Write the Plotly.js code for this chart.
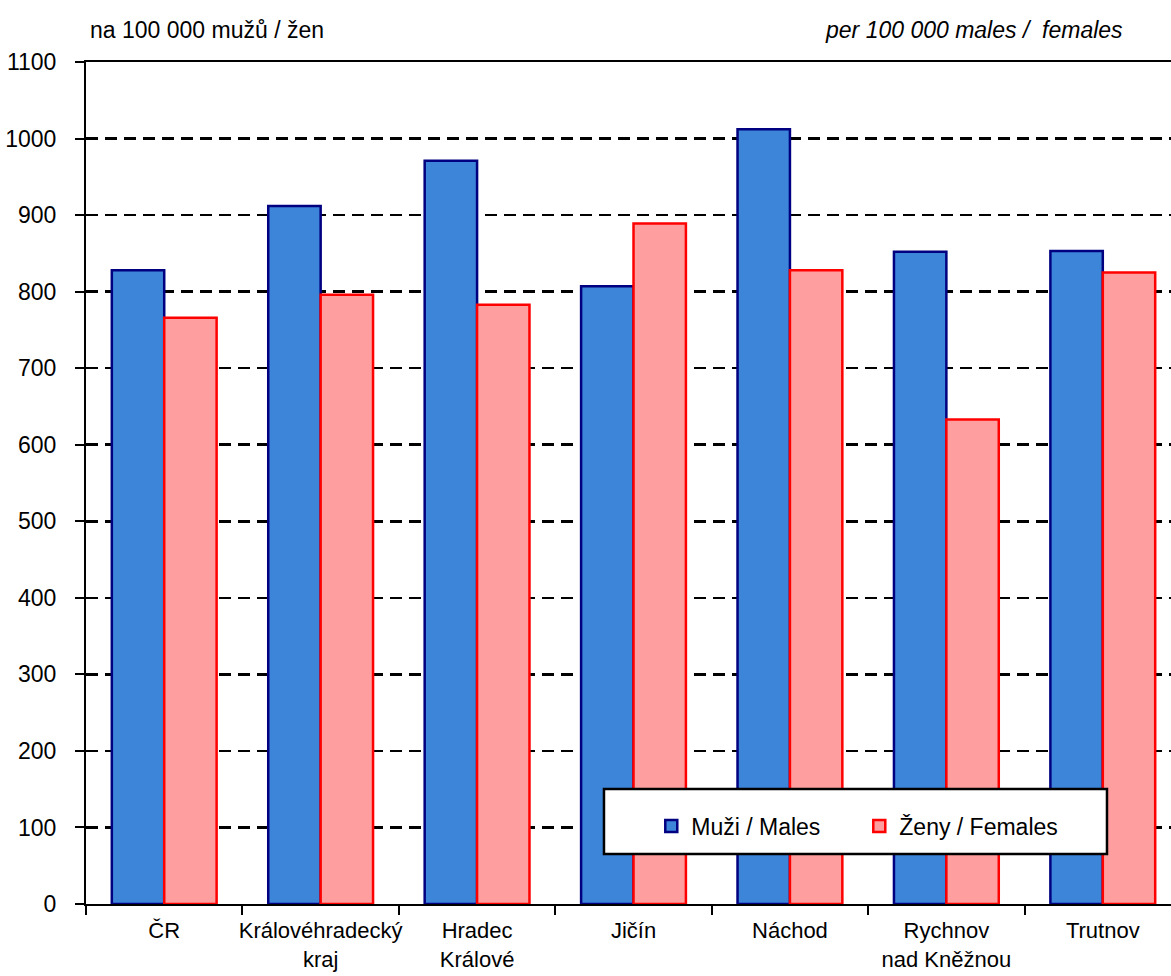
<!DOCTYPE html>
<html>
<head>
<meta charset="utf-8">
<script src="https://cdn.plot.ly/plotly-3.0.1.min.js"></script>
<style>html,body{margin:0;padding:0;background:#fff;}#chart{width:1171px;height:976px;}</style>
</head>
<body>
<div id="chart"></div>
<script>
const categories = ["ČR", "Královéhradecký<br>kraj", "Hradec<br>Králové", "Jičín", "Náchod", "Rychnov<br>nad Kněžnou", "Trutnov"];
const males = [828, 912, 971, 807, 1012, 852, 853];
const females = [766, 796, 783, 889, 828, 633, 825];
const yTicks = [0, 100, 200, 300, 400, 500, 600, 700, 800, 900, 1000, 1100];
const seriesNames = ["Muži / Males", "Ženy / Females"];
const headerLeft = "na 100 000 mužů / žen";
const headerRight = "per 100 000 males /  females";

const font = "Liberation Sans, Arial, sans-serif";

const traces = [
  {type: "bar", name: seriesNames[0], x: categories, y: males,
   marker: {color: "#3d85d8", line: {color: "#000080", width: 2.5}}},
  {type: "bar", name: seriesNames[1], x: categories, y: females,
   marker: {color: "#ff9e9e", line: {color: "#ff0000", width: 2.5}}}
];

const layout = {
  width: 1171, height: 976,
  margin: {l: 86, r: 0, t: 62, b: 72},
  paper_bgcolor: "#fff", plot_bgcolor: "#fff",
  font: {family: font, size: 22, color: "#000"},
  barmode: "group", bargap: 0.33, bargroupgap: 0,
  showlegend: true,
  legend: {orientation: "h", x: 0.521, xanchor: "left", y: 0.118, yanchor: "top",
           bgcolor: "rgba(0,0,0,0)", borderwidth: 0, entrywidth: 163,
           font: {family: font, size: 23, color: "#000"}},
  xaxis: {type: "category", range: [-0.5, 6.436], tickson: "boundaries", tickangle: 0,
          ticks: "outside", ticklen: 9, tickwidth: 2, tickcolor: "#000",
          showline: true, linecolor: "#000", linewidth: 2, mirror: true, ticklabelstandoff: 6,
          showgrid: false, tickfont: {family: font, size: 22}, fixedrange: true},
  yaxis: {range: [0, 1100], tickvals: yTicks, ticktext: yTicks.map(String),
          ticks: "outside", ticklen: 9, tickwidth: 2, tickcolor: "#000",
          showline: true, linecolor: "#000", linewidth: 2,
          showgrid: true, gridcolor: "#000", gridwidth: 2.5, griddash: "12px,7px",
          zeroline: false, ticklabelstandoff: 14,
          tickfont: {family: font, size: 23}, fixedrange: true},
  shapes: [
    {type: "rect", xref: "paper", yref: "paper", x0: 0.4774, x1: 0.9410, y0: 0.0594, y1: 0.1366,
     fillcolor: "#fff", line: {color: "#000", width: 2.5}, layer: "above"}
  ],
  annotations: [
    {text: headerLeft, xref: "paper", yref: "paper", x: 0.002, y: 1.038, xanchor: "left", yanchor: "middle",
     showarrow: false, font: {family: font, size: 23}},
    {text: "<i>" + headerRight + "</i>", xref: "paper", yref: "paper", x: 0.958, y: 1.038, xanchor: "right", yanchor: "middle",
     showarrow: false, font: {family: font, size: 23}}
  ]
};

Plotly.newPlot("chart", traces, layout, {displayModeBar: false, staticPlot: true});
</script>
</body>
</html>
